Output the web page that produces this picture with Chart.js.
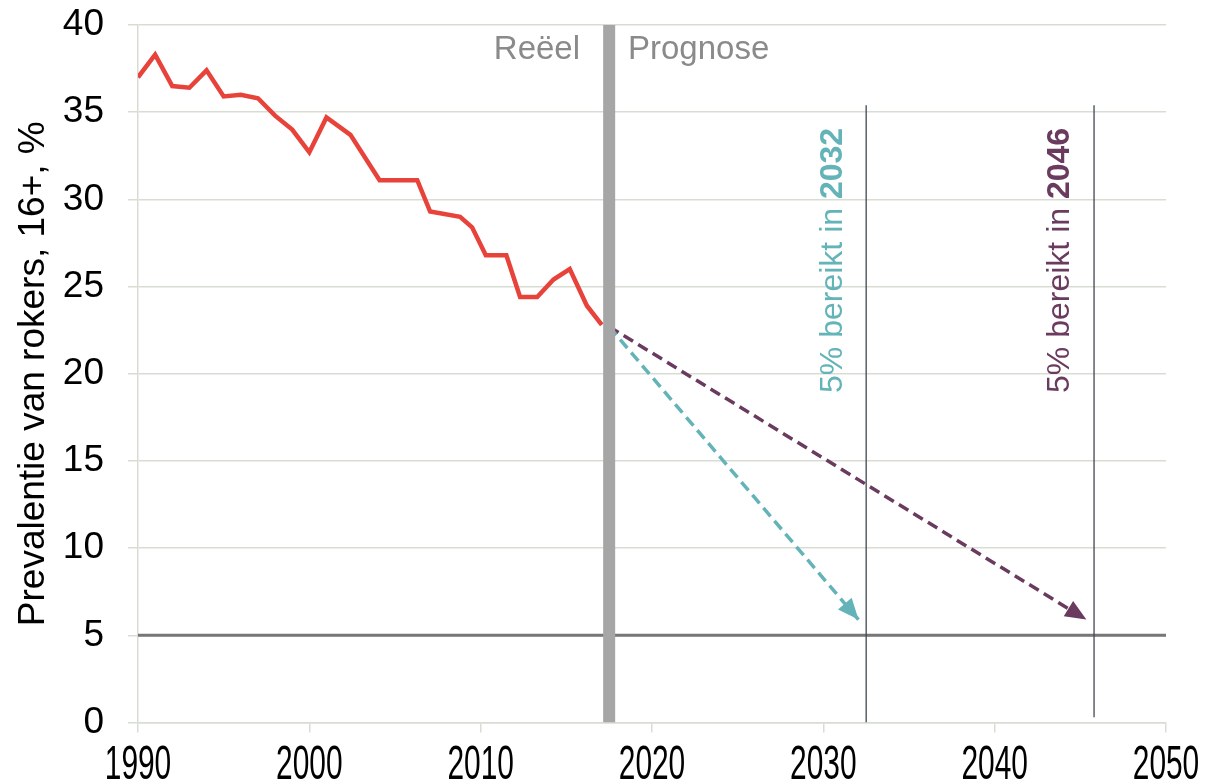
<!DOCTYPE html>
<html lang="nl">
<head>
<meta charset="utf-8">
<title>Prevalentie van rokers</title>
<script src="https://cdn.jsdelivr.net/npm/chart.js@4.4.1/dist/chart.umd.min.js"></script>
<style>
  html, body { margin: 0; padding: 0; background: #ffffff; }
  #wrap { width: 1227px; height: 782px; }
</style>
</head>
<body>
<div id="wrap"><canvas id="chart" width="1227" height="782"></canvas></div>
<script>
// Measured smoking prevalence (16+), %
const histYears  = [1990, 1991, 1992, 1993, 1994, 1995, 1996, 1997, 1998, 1999, 2000, 2001,
                    2002.4, 2004.1, 2006.3, 2007.05, 2008.8, 2009.5, 2010.3, 2011.5, 2012.3,
                    2013.3, 2014.25, 2015.2, 2016.2, 2017.07];
const histValues = [37.0, 38.3, 36.5, 36.4, 37.4, 35.9, 36.0, 35.8, 34.8, 34.0, 32.7, 34.7,
                    33.7, 31.1, 31.1, 29.3, 29.0, 28.4, 26.8, 26.8, 24.4,
                    24.4, 25.4, 26.0, 23.9, 22.8];

// Two projections towards the 5% target
const fastYears  = [2017.5, 2032.05];
const fastValues = [22.7, 5.9];
const slowYears  = [2017.5, 2045.35];
const slowValues = [22.7, 5.9];

// Reference lines
const targetLevel   = 5;
const splitYear     = 2017.5;          // boundary between measured and forecast
const reachYears    = [2032.5, 2045.8]; // years in which 5% is reached
const reachTop      = 35.4;

// Axis ticks
const xTicks = [1990, 2000, 2010, 2020, 2030, 2040, 2050];
const yTicks = [0, 5, 10, 15, 20, 25, 30, 35, 40];

const toPoints = (xs, ys) => xs.map((x, i) => ({ x: x, y: ys[i] }));

const RED = '#e8433b';
const TEAL = '#63b3b8';
const PLUM = '#6a3b5e';
const GRID = '#d8ddd4';
const FONT = "'Liberation Sans', Arial, sans-serif";

// Arrow heads, condensed year labels and the text annotations
const annotations = {
  id: 'annotations',
  afterDatasetsDraw(chart) {
    const ctx = chart.ctx;
    const xs = chart.scales.x, ys = chart.scales.y;

    chart.data.datasets.forEach((ds, i) => {
      if (!ds.arrow) return;
      const pts = chart.getDatasetMeta(i).data;
      const a = pts[pts.length - 2], b = pts[pts.length - 1];
      const ang = Math.atan2(b.y - a.y, b.x - a.x);
      const len = 21, half = 9;
      ctx.save();
      ctx.translate(b.x, b.y);
      ctx.rotate(ang);
      ctx.beginPath();
      ctx.moveTo(0, 0);
      ctx.lineTo(-len, -half);
      ctx.lineTo(-len, half);
      ctx.closePath();
      ctx.fillStyle = ds.borderColor;
      ctx.fill();
      ctx.restore();
    });

    // Year labels under the x axis, tall and condensed
    ctx.save();
    ctx.fillStyle = '#000';
    ctx.font = '49px ' + FONT;
    ctx.textAlign = 'center';
    ctx.textBaseline = 'alphabetic';
    xs.ticks.forEach(t => {
      ctx.save();
      ctx.translate(xs.getPixelForValue(t.value), 779);
      ctx.scale(0.61, 1);
      ctx.fillText(String(t.value), 0, 0);
      ctx.restore();
    });
    ctx.restore();

    // Measured / forecast captions
    ctx.save();
    ctx.font = '33px ' + FONT;
    ctx.fillStyle = '#8a8a8a';
    ctx.textBaseline = 'middle';
    ctx.textAlign = 'right';
    ctx.fillText('Reëel', xs.getPixelForValue(2015.8), ys.getPixelForValue(38.6));
    ctx.textAlign = 'left';
    ctx.fillText('Prognose', xs.getPixelForValue(2018.6), ys.getPixelForValue(38.6));
    ctx.restore();

    // Vertical captions for the year the target is reached
    const vlabel = (xVal, yVal, year, color) => {
      ctx.save();
      ctx.translate(xs.getPixelForValue(xVal), ys.getPixelForValue(yVal));
      ctx.rotate(-Math.PI / 2);
      ctx.textBaseline = 'middle';
      ctx.textAlign = 'left';
      ctx.fillStyle = color;
      const pre = '5% bereikt in ';
      ctx.font = '32px ' + FONT;
      ctx.fillText(pre, 0, 0);
      const w = ctx.measureText(pre).width;
      ctx.font = 'bold 32px ' + FONT;
      ctx.fillText(year, w, 0);
      ctx.restore();
    };
    vlabel(2030.57, 18.9, '2032', TEAL);
    vlabel(2043.82, 18.9, '2046', PLUM);
  }
};

new Chart(document.getElementById('chart'), {
  type: 'scatter',
  data: {
    datasets: [
      {
        data: toPoints([splitYear, splitYear], [0, 40]),
        showLine: true, borderColor: '#a6a6a6', borderWidth: 12,
        borderCapStyle: 'butt', pointRadius: 0, order: 0
      },
      {
        data: toPoints([reachYears[0], reachYears[0]], [0, reachTop]),
        showLine: true, borderColor: '#3f4850', borderWidth: 1.3,
        pointRadius: 0, order: 1
      },
      {
        data: toPoints([reachYears[1], reachYears[1]], [0.3, reachTop]),
        showLine: true, borderColor: '#3f4850', borderWidth: 1.3,
        pointRadius: 0, order: 1
      },
      {
        data: toPoints(histYears, histValues),
        showLine: true, borderColor: RED, borderWidth: 4.5,
        borderJoinStyle: 'miter', pointRadius: 0, order: 2
      },
      {
        data: toPoints(fastYears, fastValues), arrow: true,
        showLine: true, borderColor: TEAL, borderWidth: 3.5, borderDash: [11, 6],
        pointRadius: 0, order: 2
      },
      {
        data: toPoints(slowYears, slowValues), arrow: true,
        showLine: true, borderColor: PLUM, borderWidth: 3.5, borderDash: [11, 6],
        pointRadius: 0, order: 2
      },
      {
        data: toPoints([1990, 2050], [targetLevel, targetLevel]),
        showLine: true, borderColor: '#777777', borderWidth: 3,
        pointRadius: 0, order: 3
      }
    ]
  },
  options: {
    responsive: false,
    animation: false,
    events: [],
    layout: { padding: { top: 25, right: 61, left: 0, bottom: 0 } },
    plugins: { legend: { display: false }, tooltip: { enabled: false } },
    scales: {
      x: {
        type: 'linear', min: 1990, max: 2050,
        afterBuildTicks: s => { s.ticks = xTicks.map(v => ({ value: v })); },
        afterFit: s => { s.height = 59.5; s.paddingLeft = 0; s.paddingRight = 0; },
        ticks: { display: false },
        grid: { drawOnChartArea: false, drawTicks: true, tickLength: 10, color: GRID, lineWidth: 1.5 },
        border: { display: true, color: GRID, width: 1.5 }
      },
      y: {
        min: 0, max: 40,
        afterBuildTicks: s => { s.ticks = yTicks.map(v => ({ value: v })); },
        afterFit: s => { s.width = 138; s.paddingTop = 0; s.paddingBottom = 0; },
        ticks: {
          color: '#000', padding: 24,
          font: { family: FONT, size: 37 },
          callback: v => String(v)
        },
        grid: { color: GRID, lineWidth: 1.5, tickLength: 10 },
        border: { display: true, color: GRID, width: 1.5 },
        title: {
          display: true, text: 'Prevalentie van rokers, 16+, %', color: '#000',
          font: { family: FONT, size: 37 }, padding: { top: 12, bottom: 0 }
        }
      }
    }
  },
  plugins: [annotations]
});
</script>
</body>
</html>
